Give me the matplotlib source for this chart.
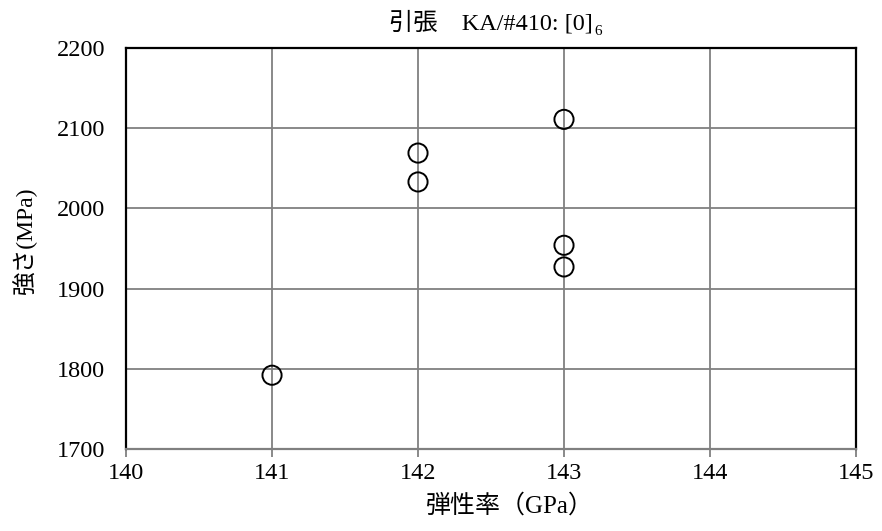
import matplotlib
matplotlib.use("Agg")
import matplotlib.pyplot as plt

modulus_gpa = [141, 142, 142, 143, 143, 143]
strength_mpa = [1792, 2069, 2033, 2111, 1954, 1927]
x_ticks = [140, 141, 142, 143, 144, 145]
y_ticks = [1700, 1800, 1900, 2000, 2100, 2200]
title_main = '引張　KA/#410: [0]'
title_sub = '6'

plt.rcParams['font.family'] = ['Liberation Serif', 'Noto Sans CJK JP']

fig = plt.figure(figsize=(8.82, 5.31), dpi=100)
ax = fig.add_axes([0.1429, 0.1544, 0.9705 - 0.1429, 0.9096 - 0.1544])

ax.scatter(modulus_gpa, strength_mpa, s=190, facecolors='none', edgecolors='black',
           linewidths=1.4, zorder=3)

ax.set_xlim(140, 145)
ax.set_ylim(1700, 2200)
ax.set_xticks(x_ticks)
ax.set_yticks(y_ticks)
ax.grid(True, color='#808080', linewidth=1.3)
ax.set_axisbelow(True)
ax.tick_params(axis='x', direction='out', length=6, width=1.3, color='#808080',
               labelsize=17.5, pad=4)
ax.tick_params(axis='y', direction='out', length=0, labelsize=17.5, pad=15)

for side in ['top', 'left', 'right']:
    ax.spines[side].set_color('black')
ax.spines['bottom'].set_color('#808080')
for s in ax.spines.values():
    s.set_linewidth(1.6)

ax.set_xlabel('弾性率（GPa）', fontsize=18)
ax.xaxis.set_label_coords(0.526, -0.112)
ax.set_ylabel('強さ(MPa)', fontsize=17)
ax.yaxis.set_label_coords(-0.122, 0.521)
t = ax.set_title(title_main, fontsize=17.5, pad=13)
ax.annotate(title_sub, xy=(1.0, 0.0), xycoords=t, xytext=(1, -2),
            textcoords='offset points', fontsize=11, ha='left', va='bottom')

fig.savefig('out.png', dpi=100)
